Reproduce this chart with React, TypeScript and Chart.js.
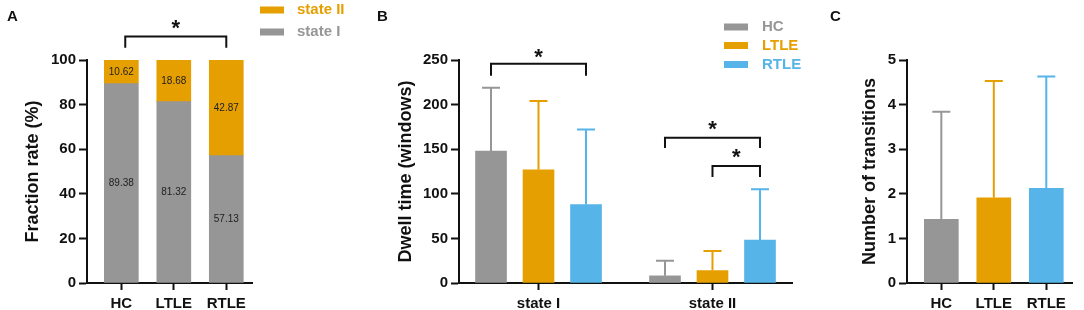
import React, { useEffect, useRef } from "react";
import { Chart, registerables } from "chart.js";

Chart.register(...registerables);

const FONT = "'Liberation Sans', Arial, Helvetica, sans-serif";
const GRAY = "#969696";
const ORANGE = "#E69F00";
const BLUE = "#56B4E9";
const INK = "#111111";

// ---------- Panel A: fraction rate ----------
const groupsA = ["HC", "LTLE", "RTLE"];
const stateIFraction = [89.38, 81.32, 57.13];
const stateIIFraction = [10.62, 18.68, 42.87];

// ---------- Panel B: dwell time ----------
const statesB = ["state I", "state II"];
const dwellHC = [148, 8];
const dwellHCsd = [71, 17];
const dwellLTLE = [127, 14];
const dwellLTLEsd = [77, 22];
const dwellRTLE = [88, 48];
const dwellRTLEsd = [84, 57];
const groupOffsetB = [-0.273, 0, 0.273];

// ---------- Panel C: transitions ----------
const groupsC = ["HC", "LTLE", "RTLE"];
const transitions = [1.43, 1.91, 2.12];
const transitionsSd = [2.41, 2.62, 2.51];

// significance brackets (x in axis units, y in data units)
const bracketsA = [{ from: 0.075, to: 2, y: 110.5, legTo: 105.5, starY: 117 }];
const bracketsB = [
  { from: -0.273, to: 0.273, y: 245.8, legTo: 232.4, starY: 259.3 },
  { from: 0.727, to: 1.273, y: 162.7, legTo: 151.4, starY: 178.4 },
  { from: 1.0, to: 1.273, y: 131.2, legTo: 118.8, starY: 146.9 },
];

Chart.defaults.font.family = FONT;

const annotPlugin = {
  id: "annot",
  afterDatasetsDraw(chart: any) {
    const ctx = chart.ctx;
    const ys = chart.scales.y;
    chart.data.datasets.forEach((ds: any, di: number) => {
      const meta = chart.getDatasetMeta(di);
      if (ds.errors) {
        meta.data.forEach((el: any, i: number) => {
          const raw = ds.data[i];
          const v = typeof raw === "number" ? raw : raw.y;
          const top = ys.getPixelForValue(v + ds.errors[i]);
          const col = Array.isArray(ds.backgroundColor) ? ds.backgroundColor[i] : ds.backgroundColor;
          ctx.save();
          ctx.strokeStyle = col;
          ctx.lineWidth = 2;
          ctx.beginPath();
          ctx.moveTo(el.x, el.y);
          ctx.lineTo(el.x, top);
          ctx.moveTo(el.x - 9, top);
          ctx.lineTo(el.x + 9, top);
          ctx.stroke();
          ctx.restore();
        });
      }
      if (ds.showValues) {
        meta.data.forEach((el: any, i: number) => {
          const raw = ds.data[i];
          const v = typeof raw === "number" ? raw : raw.y;
          ctx.save();
          ctx.fillStyle = "#222222";
          ctx.font = `10px ${FONT}`;
          ctx.textAlign = "center";
          ctx.textBaseline = "middle";
          ctx.fillText(v.toFixed(2), el.x, (el.y + el.base) / 2);
          ctx.restore();
        });
      }
    });
  },
  afterDraw(chart: any, _args: any, opts: any) {
    const ctx = chart.ctx;
    const xs = chart.scales.x;
    const ys = chart.scales.y;
    (opts.brackets || []).forEach((b: any) => {
      const x1 = xs.getPixelForValue(b.from);
      const x2 = xs.getPixelForValue(b.to);
      const yT = ys.getPixelForValue(b.y);
      const yL = ys.getPixelForValue(b.legTo);
      const yS = ys.getPixelForValue(b.starY);
      ctx.save();
      ctx.strokeStyle = INK;
      ctx.lineWidth = 2;
      ctx.beginPath();
      ctx.moveTo(x1, yL);
      ctx.lineTo(x1, yT);
      ctx.lineTo(x2, yT);
      ctx.lineTo(x2, yL);
      ctx.stroke();
      ctx.fillStyle = INK;
      ctx.font = `bold 22px ${FONT}`;
      ctx.textAlign = "center";
      ctx.textBaseline = "alphabetic";
      ctx.fillText("*", (x1 + x2) / 2, yS + 12.5);
      ctx.restore();
    });
    const lg = opts.legend;
    if (lg) {
      lg.items.forEach((it: any) => {
        ctx.save();
        ctx.fillStyle = it.color;
        ctx.fillRect(lg.boxX, it.y - 3.5, 24, 7);
        ctx.font = `bold 15px ${FONT}`;
        ctx.textAlign = "left";
        ctx.textBaseline = "middle";
        ctx.fillText(it.label, lg.textX, it.y);
        ctx.restore();
      });
    }
    if (opts.letter) {
      ctx.save();
      ctx.fillStyle = INK;
      ctx.font = `bold 15px ${FONT}`;
      ctx.textAlign = "left";
      ctx.textBaseline = "alphabetic";
      ctx.fillText(opts.letter.text, opts.letter.x, 20.5);
      ctx.restore();
    }
  },
};

function yScale(min: number, max: number, step: number, title: string, titleCenter: number, axisLeft: number, stacked = false) {
  return {
    type: "linear",
    min,
    max,
    stacked,
    ticks: { stepSize: step, color: INK, font: { family: FONT, size: 15, weight: "bold" }, padding: 3 },
    grid: { display: true, drawOnChartArea: false, drawTicks: true, tickLength: 8, tickWidth: 2, tickColor: INK },
    border: { display: true, color: INK, width: 2 },
    title: {
      display: true,
      text: title,
      color: INK,
      font: { family: FONT, size: 18, weight: "bold" },
      padding: { top: titleCenter - 10.8, bottom: 0 },
    },
    afterFit: (s: any) => {
      s.width = axisLeft;
    },
  };
}

function xScale(min: number, max: number, labels: string[], stacked = false) {
  return {
    type: "linear",
    min,
    max,
    offset: false,
    stacked,
    afterBuildTicks: (s: any) => {
      s.ticks = labels.map((_, i) => ({ value: i }));
    },
    ticks: {
      callback: (v: any) => labels[Math.round(Number(v))] ?? "",
      autoSkip: false,
      maxRotation: 0,
      color: INK,
      font: { family: FONT, size: 15, weight: "bold" },
      padding: 5,
    },
    grid: { display: true, offset: false, drawOnChartArea: false, drawTicks: true, tickLength: 7, tickWidth: 2, tickColor: INK },
    border: { display: true, color: INK, width: 2 },
    afterFit: (s: any) => {
      s.height = 27;
    },
  };
}

function configA(): any {
  return {
    type: "bar",
    data: {
      datasets: [
        { label: "state I", data: stateIFraction.map((v, i) => ({ x: i, y: v })), backgroundColor: GRAY, showValues: true },
        { label: "state II", data: stateIIFraction.map((v, i) => ({ x: i, y: v })), backgroundColor: ORANGE, showValues: true },
      ],
    },
    options: {
      responsive: false,
      animation: false,
      devicePixelRatio: 1,
      layout: { padding: { top: 60, left: 0, right: 108, bottom: 0 } },
      datasets: { bar: { barThickness: 34, grouped: false } },
      scales: {
        x: xScale(-0.654, 2.49, groupsA, true),
        y: yScale(0, 100, 20, "Fraction rate (%)", 33, 87, true),
      },
      plugins: {
        legend: { display: false },
        tooltip: { enabled: false },
        annot: {
          brackets: bracketsA,
          legend: {
            boxX: 260,
            textX: 297,
            items: [
              { label: "state II", color: ORANGE, y: 10 },
              { label: "state I", color: GRAY, y: 32 },
            ],
          },
          letter: { text: "A", x: 7 },
        },
      },
    },
    plugins: [annotPlugin],
  };
}

function configB(): any {
  const mk = (label: string, vals: number[], sd: number[], color: string, k: number) => ({
    label,
    data: vals.map((v, i) => ({ x: i + groupOffsetB[k], y: v })),
    errors: sd,
    backgroundColor: color,
  });
  return {
    type: "bar",
    data: {
      datasets: [
        mk("HC", dwellHC, dwellHCsd, GRAY, 0),
        mk("LTLE", dwellLTLE, dwellLTLEsd, ORANGE, 1),
        mk("RTLE", dwellRTLE, dwellRTLEsd, BLUE, 2),
      ],
    },
    options: {
      responsive: false,
      animation: false,
      devicePixelRatio: 1,
      layout: { padding: { top: 60, left: 0, right: 28, bottom: 0 } },
      datasets: { bar: { barThickness: 31, grouped: false } },
      scales: {
        x: xScale(-0.457, 1.457, statesB),
        y: yScale(0, 250, 50, "Dwell time (windows)", 46, 99),
      },
      plugins: {
        legend: { display: false },
        tooltip: { enabled: false },
        annot: {
          brackets: bracketsB,
          legend: {
            boxX: 364,
            textX: 402,
            items: [
              { label: "HC", color: GRAY, y: 27 },
              { label: "LTLE", color: ORANGE, y: 45.5 },
              { label: "RTLE", color: BLUE, y: 64.5 },
            ],
          },
          letter: { text: "B", x: 17 },
        },
      },
    },
    plugins: [annotPlugin],
  };
}

function configC(): any {
  const colors = [GRAY, ORANGE, BLUE];
  return {
    type: "bar",
    data: {
      datasets: [
        {
          label: "transitions",
          data: transitions.map((v, i) => ({ x: i, y: v })),
          errors: transitionsSd,
          backgroundColor: colors,
        },
      ],
    },
    options: {
      responsive: false,
      animation: false,
      devicePixelRatio: 1,
      layout: { padding: { top: 60, left: 0, right: 12, bottom: 0 } },
      datasets: { bar: { barThickness: 34, grouped: false } },
      scales: {
        x: xScale(-0.654, 2.49, groupsC),
        y: yScale(0, 5, 1, "Number of transitions", 50, 87),
      },
      plugins: {
        legend: { display: false },
        tooltip: { enabled: false },
        annot: { letter: { text: "C", x: 10 } },
      },
    },
    plugins: [annotPlugin],
  };
}

function ChartPanel({ left, width, make }: { left: number; width: number; make: () => any }) {
  const ref = useRef<HTMLCanvasElement>(null);
  useEffect(() => {
    const cfg = make();
    const chart = new Chart(ref.current as HTMLCanvasElement, cfg);
    return () => chart.destroy();
  }, []);
  return (
    <canvas
      ref={ref}
      width={width}
      height={310}
      style={{ position: "absolute", left, top: 0, width, height: 310 }}
    />
  );
}

export default function App() {
  return (
    <div style={{ position: "absolute", left: 0, top: 0, width: 1084, height: 310, background: "#ffffff", overflow: "hidden" }}>
      <ChartPanel left={0} width={360} make={configA} />
      <ChartPanel left={360} width={460} make={configB} />
      <ChartPanel left={820} width={264} make={configC} />
    </div>
  );
}
